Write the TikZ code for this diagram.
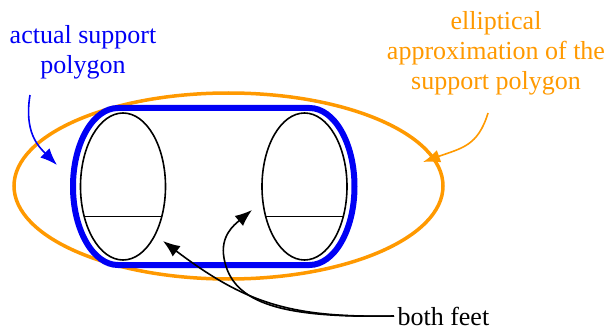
\documentclass[tikz,border=0pt]{standalone}
\usepackage{fontspec}
\setmainfont{Liberation Serif}
\usetikzlibrary{arrows.meta}

\definecolor{hullblue}{RGB}{0,0,245}
\definecolor{approxorange}{RGB}{255,153,0}

\tikzset{
  label text/.style={align=center,font=\fontsize{26}{30}\selectfont},
  foot/.style={black,line width=1.6pt},
  pointer/.style={-{Latex[length=17pt,width=13pt]},line width=1.6pt},
}

\begin{document}
\begin{tikzpicture}[x=1pt,y=-1pt]
\useasboundingbox (0,0) rectangle (611,334);

% support region and its ellipse
\draw[approxorange,line width=3.5pt] (228.5,186) ellipse [x radius=214.5,y radius=93];
\draw[hullblue,line width=6pt] (118,108) arc [start angle=-90,end angle=-270,x radius=45,y radius=78.5]
  -- (309.5,265) arc [start angle=90,end angle=-90,x radius=45,y radius=78.5] -- cycle;

% the two feet
\draw[foot] (123,186.5) ellipse [x radius=42.5,y radius=73.5];
\draw[foot] (304.5,186.5) ellipse [x radius=42.5,y radius=73.5];
\draw[foot] (84.5,216.5) -- (161.5,216.5);
\draw[foot] (266,216.5) -- (343,216.5);

% labels
\node[label text,text=hullblue] (actual) at (83,52) {actual support\\polygon};
\node[label text,text=approxorange] (approx) at (496,53) {elliptical\\approximation of the\\support polygon};
\node[label text,anchor=west] (feet) at (394,316) {both feet};

\coordinate (actualtip) at (57,165);
\coordinate (approxtip) at (423,162);
\coordinate (lefttip) at (163,241);
\coordinate (righttip) at (252,210);

% arrows
\draw[pointer,hullblue] (30,95) .. controls (24,132) and (38,146) .. (actualtip);
\draw[pointer,approxorange] (488,113) .. controls (478,146) and (462,148) .. (approxtip);
\draw[pointer] (feet.west) .. controls (290,318) and (245,303) .. (lefttip);
\draw[pointer] (feet.west) .. controls (285,318) and (232,305) .. (224,258)
  .. controls (220,236) and (234,225) .. (righttip);
\end{tikzpicture}
\end{document}
